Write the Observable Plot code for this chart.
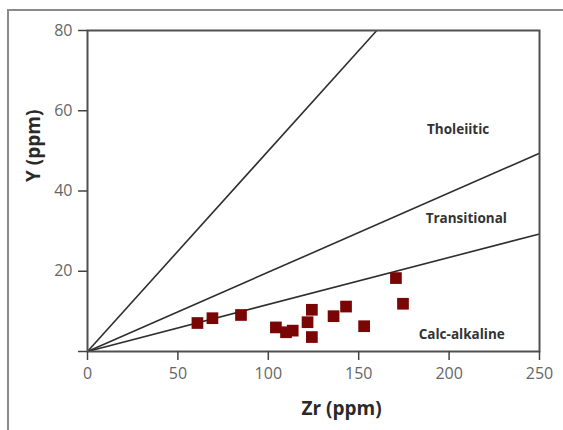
<!DOCTYPE html>
<html>
<head>
<meta charset="utf-8">
<script src="https://cdn.jsdelivr.net/npm/d3@7"></script>
<script src="https://cdn.jsdelivr.net/npm/@observablehq/plot@0.6"></script>
<style>
  html, body { margin: 0; padding: 0; background: #fff; }
  #wrap { position: relative; width: 563px; height: 430px; overflow: hidden; background: #fff; }
  #border { position: absolute; left: 7px; top: 9px; width: 700px; height: 600px;
            border-left: 2px solid #8a8a8a; border-top: 2px solid #8a8a8a; }
  #chart { position: absolute; left: 0; top: 0; }
</style>
</head>
<body>
<div id="wrap"><div id="border"></div><div id="chart"></div></div>
<script>
// Sample data (Zr vs Y, ppm)
const zr = [60.8, 69.1, 84.9, 104.2, 109.8, 113.5, 121.7, 124.1, 124.1, 136.1, 143.0, 153.0, 170.6, 174.5];
const yv = [7.1, 8.3, 9.1, 6.0, 4.8, 5.2, 7.3, 10.4, 3.6, 8.8, 11.2, 6.3, 18.3, 11.9];

// Discrimination lines from origin: end points
const lineEndZr = [160, 250, 250];
const lineEndY = [80, 49.4, 29.3];

// Field labels
const fieldNames = ["Tholeiitic", "Transitional", "Calc-alkaline"];
const fieldZr = [205, 209.5, 207];
const fieldY = [55.3, 33.2, 4.1];

const xTicks = [0, 50, 100, 150, 200, 250];
const yTicks = [0, 20, 40, 60, 80];

const points = zr.map((z, i) => ({zr: z, y: yv[i]}));
const lines = lineEndZr.map((z, i) => ({x1: 0, y1: 0, x2: z, y2: lineEndY[i]}));
const fields = fieldNames.map((n, i) => ({name: n, zr: fieldZr[i], y: fieldY[i]}));

const plot = Plot.plot({
  width: 563,
  height: 430,
  marginLeft: 87,
  marginRight: 24,
  marginTop: 30,
  marginBottom: 79,
  style: {fontFamily: "'Open Sans', sans-serif", fontSize: "16px", background: "transparent", overflow: "visible"},
  x: {domain: [0, 250]},
  y: {domain: [0, 80]},
  marks: [
    Plot.link(lines, {x1: "x1", y1: "y1", x2: "x2", y2: "y2", stroke: "#2e2e2e", strokeWidth: 1.6}),
    Plot.dot(points, {x: "zr", y: "y", symbol: "square", r: 6.6, fill: "#7a0505", stroke: "none"}),
    Plot.text(fields, {x: "zr", y: "y", text: "name", fontWeight: "bold", fontSize: 13.5, fill: "#333", textAnchor: "middle"}),
    Plot.frame({stroke: "#505050", strokeWidth: 2}),
    Plot.axisX({ticks: xTicks, tickSize: 9, tickPadding: 7, stroke: "#444", strokeWidth: 1.5, fill: "#666", label: null, tickFormat: d => String(d)}),
    Plot.axisY({ticks: yTicks, tickSize: 9, tickPadding: 6, stroke: "#444", strokeWidth: 1.5, fill: "#666", label: null, tickFormat: d => d === 0 ? "" : String(d)}),
    Plot.text(["Zr (ppm)"], {frameAnchor: "bottom", dy: 63, dx: 28, fontWeight: "bold", fontSize: 19, fill: "#2a2a2a"}),
    Plot.text(["Y (ppm)"], {frameAnchor: "left", dx: -54, dy: -9, rotate: -90, fontWeight: "bold", fontSize: 19, fill: "#2a2a2a"})
  ]
});
document.getElementById("chart").appendChild(plot);
</script>
</body>
</html>
